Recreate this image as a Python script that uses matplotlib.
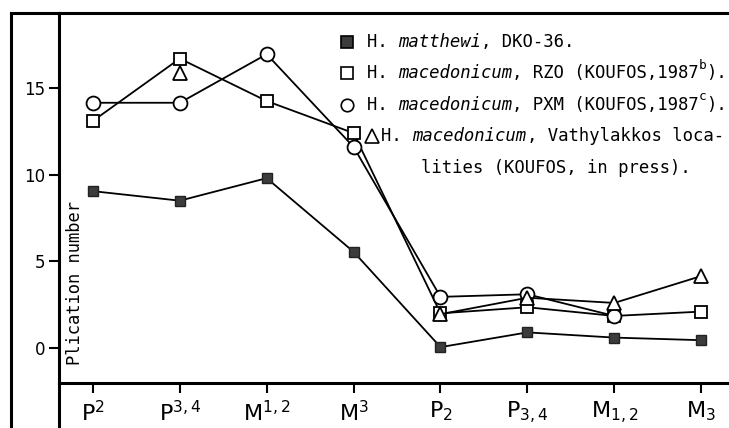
import numpy as np
import matplotlib
matplotlib.use("Agg")
import matplotlib.pyplot as plt
from matplotlib.lines import Line2D

# tooth positions, upper row then lower row
teeth = [r"P$^{2}$", r"P$^{3,4}$", r"M$^{1,2}$", r"M$^{3}$",
         r"P$_{2}$", r"P$_{3,4}$", r"M$_{1,2}$", r"M$_{3}$"]
nan = np.nan
matthewi_dko = [9.05, 8.5, 9.8, 5.55, 0.05, 0.9, 0.6, 0.45]
macedonicum_rzo = [13.1, 16.7, 14.25, 12.4, 2.0, 2.35, 1.85, 2.1]
macedonicum_pxm = [14.15, 14.15, 16.95, 11.6, 2.95, 3.1, 1.85, nan]
macedonicum_vath = [nan, 15.85, nan, nan, 1.95, 2.9, 2.6, 4.15]
yticks = [0, 5, 10, 15]

W, H = 729, 428
fig = plt.figure(figsize=(W / 100, H / 100), dpi=100)
ax = fig.add_axes([59 / W, (H - 383) / H, 1 - 59 / W, (383 - 13) / H])

mono = "DejaVu Sans Mono"
x = np.arange(len(teeth))
lw = 1.3
ax.plot(x, matthewi_dko, color="black", lw=lw, marker="s", ms=7.5,
        mfc="#3c3c3c", mec="#222222", zorder=3)
ax.plot(x, macedonicum_rzo, color="black", lw=lw, marker="s", ms=9,
        mfc="white", mec="black", mew=1.3, zorder=3)
ax.plot(x, macedonicum_pxm, color="black", lw=lw, marker="o", ms=10,
        mfc="white", mec="black", mew=1.3, zorder=3)
ax.plot(x, macedonicum_vath, color="black", lw=lw, marker="^", ms=10,
        mfc="white", mec="black", mew=1.3, zorder=4)

ax.set_xlim(-0.39, 7.32)
ax.set_ylim(-2.02, 19.33)
ax.set_xticks(x)
ax.set_xticklabels(teeth, fontsize=16)
ax.set_yticks(yticks)
ax.set_yticklabels([str(v) for v in yticks], fontsize=12)
ax.tick_params(axis="both", direction="out", length=7, width=1.5, color="black")
ax.tick_params(axis="x", pad=5)
ax.tick_params(axis="y", pad=3)

for side in ["left", "bottom", "top"]:
    ax.spines[side].set_linewidth(2.2)
ax.spines["right"].set_visible(False)

ax.text(-0.21, -1.0, "Plication number", rotation=90, ha="center", va="bottom",
        family=mono, fontsize=12.3)

# legend block
fs = 12.4
def chain(parts, x0, y0):
    prev = None
    for txt, style in parts:
        kw = dict(family=mono, fontsize=fs, style=style)
        if prev is None:
            prev = ax.text(x0, y0, txt, ha="left", va="center", **kw)
        else:
            prev = ax.annotate(txt, xy=(1, 0), xycoords=prev,
                               ha="left", va="bottom", **kw)
    return prev

rows = [
    ("s", "#3c3c3c", 17.65, [("H. ", "normal"), ("matthewi", "italic"),
                             (", DKO-36.", "normal")], None),
    ("s", "white", 15.85, [("H. ", "normal"), ("macedonicum", "italic"),
                           (", RZO (KOUFOS,1987", "normal")], "b"),
    ("o", "white", 14.05, [("H. ", "normal"), ("macedonicum", "italic"),
                           (", PXM (KOUFOS,1987", "normal")], "c"),
]
for mk, fc, yy, parts, sp in rows:
    ax.plot([2.92], [yy], marker=mk, ms=8 if mk == "s" else 9, mfc=fc,
            mec="black", mew=1.2, ls="none")
    last = chain(parts, 3.15, yy)
    if sp:
        s = ax.annotate(sp, xy=(1, 0.6), xycoords=last, ha="left", va="bottom",
                        family=mono, fontsize=fs * 0.75)
        ax.annotate(").", xy=(1, 0), xycoords=(s, last), ha="left", va="bottom",
                    family=mono, fontsize=fs)

ax.plot([3.21], [12.25], marker="^", ms=10, mfc="white", mec="black", mew=1.2,
        ls="none")
chain([("H. ", "normal"), ("macedonicum", "italic"),
       (", Vathylakkos loca-", "normal")], 3.32, 12.25)
ax.text(3.78, 10.4, "lities (KOUFOS, in press).", ha="left", va="center",
        family=mono, fontsize=fs)

# outer frame lines
def px_line(x0, y0, x1, y1):
    fig.add_artist(Line2D([x0 / W, x1 / W], [1 - y0 / H, 1 - y1 / H],
                          transform=fig.transFigure, color="black", lw=2.2))

px_line(11, 13, 11, H)
px_line(11, 13, 59, 13)
px_line(59, 383, 59, H)

fig.savefig("out.png", dpi=100)
